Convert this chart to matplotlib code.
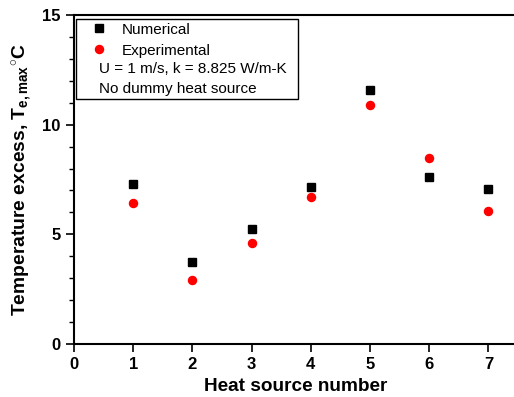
import matplotlib
matplotlib.use('Agg')
import matplotlib.pyplot as plt
from matplotlib.patches import Rectangle
from matplotlib.ticker import MultipleLocator

plt.rcParams['font.family'] = ['Liberation Sans', 'DejaVu Sans']
plt.rcParams['mathtext.fontset'] = 'custom'
plt.rcParams['mathtext.rm'] = 'Liberation Sans:bold'
plt.rcParams['mathtext.it'] = 'Liberation Sans:bold'
plt.rcParams['mathtext.bf'] = 'Liberation Sans:bold'

# 数据
source = [1, 2, 3, 4, 5, 6, 7]
numerical = [7.30, 3.75, 5.26, 7.17, 11.60, 7.60, 7.05]
experimental = [6.44, 2.93, 4.62, 6.72, 10.91, 8.48, 6.06]

fig = plt.figure(figsize=(5.14, 3.97), dpi=100)
# 右边框超出画布，和原图一样被裁掉
ax = fig.add_axes([74/514, 53/397, 444/514, 329/397])

ax.plot(source, numerical, 's', color='black', markersize=5.8, label='Numerical')
ax.plot(source, experimental, 'o', color='red', markersize=5.8, label='Experimental')

ax.set_xlim(0, 7.5)
ax.set_ylim(0, 15)
ax.xaxis.set_major_locator(MultipleLocator(1))
ax.yaxis.set_major_locator(MultipleLocator(5))
ax.yaxis.set_minor_locator(MultipleLocator(1))
ax.tick_params(axis='both', which='major', direction='out', length=6, width=1.2,
               labelsize=12)
ax.tick_params(axis='y', which='minor', direction='out', length=3.5, width=1.0)
for lab in ax.get_xticklabels() + ax.get_yticklabels():
    lab.set_fontweight('bold')
for s in ['left', 'bottom', 'top']:
    ax.spines[s].set_linewidth(1.5)
ax.spines['right'].set_visible(False)

ax.set_xlabel('Heat source number', fontsize=13.7, fontweight='bold', labelpad=4)
ax.set_ylabel(r'Temperature excess, T$_{\mathrm{e,max}}$$^{\circ}$C',
              fontsize=13.9, fontweight='bold', labelpad=5)

# 图例框
ax.add_patch(Rectangle((0.0045, 0.745), 0.50, 0.243, transform=ax.transAxes,
                       fill=False, edgecolor='black', linewidth=1.0, zorder=3))
leg = ax.legend(loc='upper left', bbox_to_anchor=(0.021, 0.995), frameon=False,
                fontsize=11, handlelength=1.2, handletextpad=0.9,
                labelspacing=0.45, borderaxespad=0)
ax.text(0.057, 0.836, 'U = 1 m/s, k = 8.825 W/m-K', transform=ax.transAxes,
        fontsize=11, va='center', ha='left')
ax.text(0.057, 0.775, 'No dummy heat source', transform=ax.transAxes,
        fontsize=11, va='center', ha='left')

fig.savefig('out.png', dpi=100)
